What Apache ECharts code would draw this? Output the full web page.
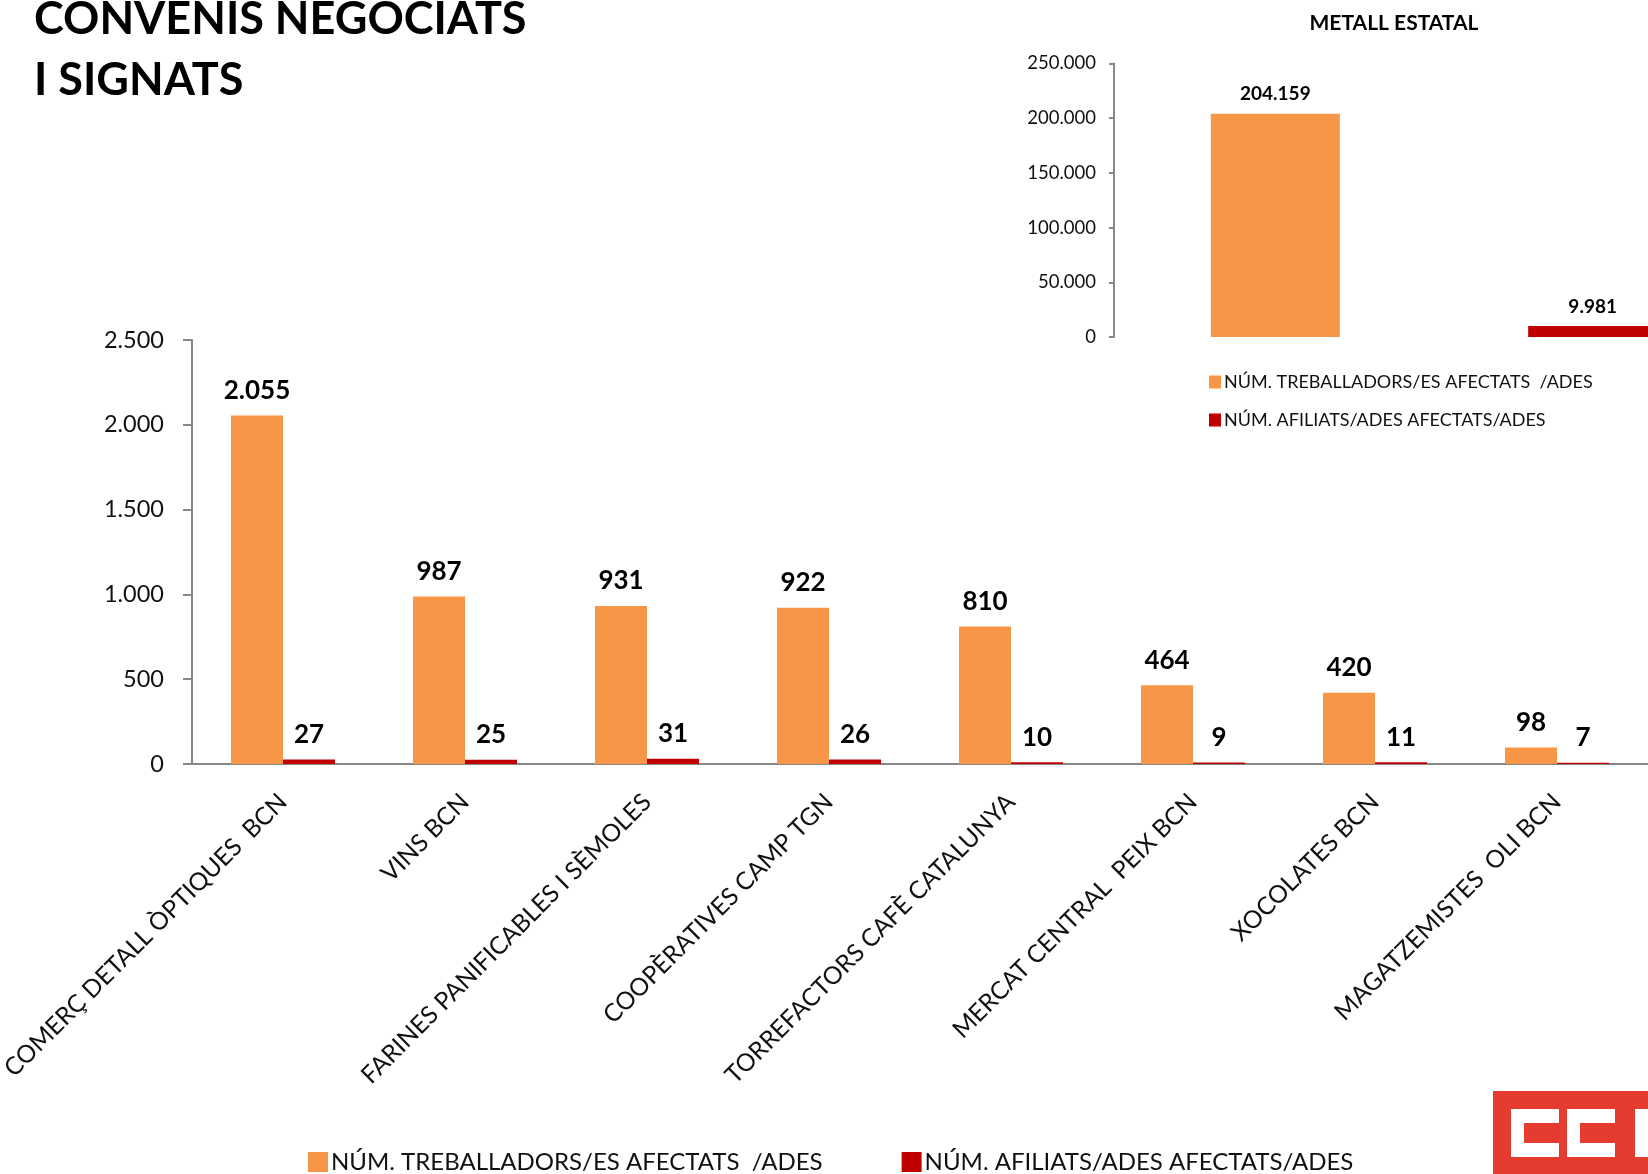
<!DOCTYPE html>
<html>
<head>
<meta charset="utf-8">
<script src="https://cdn.jsdelivr.net/npm/echarts@6/dist/echarts.min.js"></script>
<style>
  html, body { margin: 0; padding: 0; background: #fff; }
  #chart { width: 1648px; height: 1174px; }
</style>
</head>
<body>
<div id="chart"></div>
<script>
const categories = [
  'COMERÇ DETALL ÒPTIQUES  BCN',
  'VINS BCN',
  'FARINES PANIFICABLES I SÈMOLES',
  'COOPÈRATIVES CAMP TGN',
  'TORREFACTORS CAFÈ CATALUNYA',
  'MERCAT CENTRAL  PEIX BCN',
  'XOCOLATES BCN',
  'MAGATZEMISTES  OLI BCN',
]
const treballadors = [2055, 987, 931, 922, 810, 464, 420, 98]
const afiliats = [27, 25, 31, 26, 10, 9, 11, 7]

const metallCategory = ['METALL ESTATAL']
const metallTreballadors = [204159]
const metallAfiliats = [9981]

const seriesNames = ['NÚM. TREBALLADORS/ES AFECTATS  /ADES', 'NÚM. AFILIATS/ADES AFECTATS/ADES']

const orange = '#F79646'
const red = '#C00000'
const axisGray = '#878787'
const ink = '#111'
const font = 'Lato, "Noto Sans", sans-serif'

// numbers with a dot as thousands separator
const fmt = (v) => String(v).replace(/\B(?=(\d{3})+(?!\d))/g, '.')

const chart = echarts.init(document.getElementById('chart'))

chart.setOption({
  animation: false,
  backgroundColor: '#fff',
  textStyle: { fontFamily: font },
  graphic: [
    { type: 'text', x: 34, y: 19, style: { text: 'CONVENIS NEGOCIATS', font: `bold 45px ${font}`, fill: '#000', verticalAlign: 'middle' } },
    { type: 'text', x: 34, y: 80, style: { text: 'I SIGNATS', font: `bold 45px ${font}`, fill: '#000', verticalAlign: 'middle' } },
    { type: 'text', x: 1394, y: 23, style: { text: 'METALL ESTATAL', font: `bold 21px ${font}`, fill: '#000', align: 'center', verticalAlign: 'middle' } },
    // logo
    { type: 'rect', shape: { x: 1493, y: 1091, width: 160, height: 90 }, style: { fill: '#E43D30' } },
    { type: 'rect', shape: { x: 1511, y: 1109, width: 48, height: 48 }, style: { fill: '#fff' } },
    { type: 'rect', shape: { x: 1524, y: 1123, width: 35, height: 20 }, style: { fill: '#E43D30' } },
    { type: 'rect', shape: { x: 1567, y: 1109, width: 48, height: 48 }, style: { fill: '#fff' } },
    { type: 'rect', shape: { x: 1580, y: 1123, width: 35, height: 20 }, style: { fill: '#E43D30' } },
    { type: 'rect', shape: { x: 1635, y: 1109, width: 48, height: 48 }, style: { fill: '#fff' } },
  ],
  legend: [
    {
      data: seriesNames,
      left: 303,
      top: 1145,
      itemWidth: 20,
      itemHeight: 20,
      itemGap: 79,
      icon: 'rect',
      textStyle: { fontSize: 24, color: ink, fontFamily: font, padding: [0, 0, 0, -2] },
    },
    {
      data: seriesNames,
      orient: 'vertical',
      left: 1204,
      top: 368,
      itemWidth: 12,
      itemHeight: 13,
      itemGap: 20,
      icon: 'rect',
      textStyle: { fontSize: 18, color: ink, fontFamily: font, padding: [0, 0, 0, -2] },
    },
  ],
  grid: [
    { left: 192, right: 0, top: 340, bottom: 410, outerBoundsMode: 'none' },
    { left: 1114, width: 640, top: 63.5, bottom: 837, outerBoundsMode: 'none' },
  ],
  xAxis: [
    {
      gridIndex: 0,
      type: 'category',
      data: categories,
      axisLine: { lineStyle: { color: axisGray, width: 2 } },
      axisTick: { length: 11, lineStyle: { color: axisGray, width: 2 } },
      axisLabel: { rotate: 45, interval: 0, fontSize: 24.5, color: ink, margin: 34, fontFamily: font },
    },
    {
      gridIndex: 1,
      type: 'category',
      data: metallCategory,
      axisLine: { show: false },
      axisTick: { show: false },
      axisLabel: { show: false },
    },
  ],
  yAxis: [
    {
      gridIndex: 0,
      type: 'value',
      min: 0,
      max: 2500,
      interval: 500,
      axisLine: { show: true, lineStyle: { color: axisGray, width: 2 } },
      axisTick: { show: true, length: 9, lineStyle: { color: axisGray, width: 2 } },
      axisLabel: { fontSize: 23.5, color: ink, margin: 28, formatter: fmt, fontFamily: font },
      splitLine: { show: false },
    },
    {
      gridIndex: 1,
      type: 'value',
      min: 0,
      max: 250000,
      interval: 50000,
      axisLine: { show: true, lineStyle: { color: axisGray, width: 2 } },
      axisTick: { show: true, length: 5, lineStyle: { color: axisGray, width: 2 } },
      axisLabel: { fontSize: 18.5, color: ink, margin: 18, formatter: fmt, fontFamily: font },
      splitLine: { show: false },
    },
  ],
  series: [
    {
      name: seriesNames[0],
      type: 'bar',
      xAxisIndex: 0,
      yAxisIndex: 0,
      data: treballadors,
      barWidth: 52,
      barGap: '0%',
      itemStyle: { color: orange },
      label: { show: true, position: 'top', distance: 12, fontSize: 26, fontWeight: 'bold', color: '#000', formatter: (p) => fmt(p.value), fontFamily: font },
    },
    {
      name: seriesNames[1],
      type: 'bar',
      xAxisIndex: 0,
      yAxisIndex: 0,
      data: afiliats,
      barWidth: 52,
      barGap: '0%',
      itemStyle: { color: red },
      label: { show: true, position: 'top', distance: 12, fontSize: 26, fontWeight: 'bold', color: '#000', formatter: (p) => fmt(p.value), fontFamily: font },
    },
    {
      name: seriesNames[0],
      type: 'bar',
      xAxisIndex: 1,
      yAxisIndex: 1,
      data: metallTreballadors,
      barWidth: 129,
      barGap: '146%',
      itemStyle: { color: orange },
      label: { show: true, position: 'top', distance: 10, fontSize: 19, fontWeight: 'bold', color: '#000', formatter: (p) => fmt(p.value), fontFamily: font },
    },
    {
      name: seriesNames[1],
      type: 'bar',
      xAxisIndex: 1,
      yAxisIndex: 1,
      data: metallAfiliats,
      barWidth: 129,
      barGap: '146%',
      itemStyle: { color: red },
      label: { show: true, position: 'top', distance: 10, fontSize: 19, fontWeight: 'bold', color: '#000', formatter: (p) => fmt(p.value), fontFamily: font },
    },
  ],
})
</script>
</body>
</html>
